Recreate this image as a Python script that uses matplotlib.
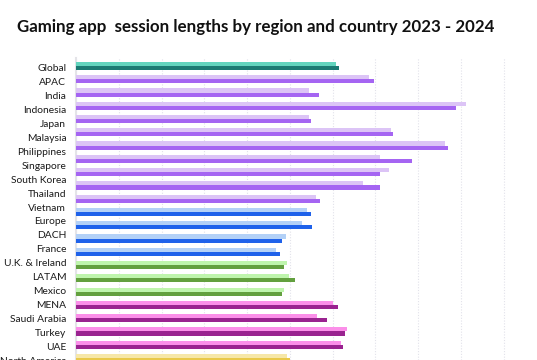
import numpy as np
import matplotlib
matplotlib.use("Agg")
import matplotlib.pyplot as plt

# y-axis labels as shown (22 labels spread over 23 bar rows)
labels = ["Global", "APAC", "India", "Indonesia", "Japan", "Malaysia",
          "Philippines", "Singapore", "South Korea", "Thailand", "Vietnam",
          "Europe", "DACH", "France", "U.K. & Ireland", "LATAM", "Mexico",
          "MENA", "Saudi Arabia", "Turkey", "UAE", "North America"]

# session lengths (minutes, estimated) per bar row
sessions_2023 = [30.4, 34.3, 27.3, 45.6, 27.2, 36.8, 43.2, 35.6, 36.6, 33.5, 28.1,
                 27.0, 26.4, 24.5, 23.4, 24.7, 24.9, 24.3,
                 30.0, 28.2, 31.7, 31.0, 24.7]
sessions_2024 = [30.7, 34.9, 28.4, 44.4, 27.5, 37.1, 43.5, 39.3, 35.5, 35.5, 28.5,
                 27.5, 27.6, 24.1, 23.9, 24.3, 25.6, 24.1,
                 30.6, 29.4, 31.5, 31.2, 25.0]
groups = ["global"] + ["apac"] * 10 + ["europe"] * 4 + ["latam"] * 3 + ["mena"] * 4 + ["na"]

colors_2023 = {"global": "#62d4bd", "apac": "#dcc4f6", "europe": "#b3d1f7",
               "latam": "#bff5ad", "mena": "#fb8fe9", "na": "#f6e7a8"}
colors_2024 = {"global": "#1b7a72", "apac": "#a565f2", "europe": "#1f62ea",
               "latam": "#63a03f", "mena": "#9a2390", "na": "#e9c94a"}

fig = plt.figure(figsize=(5.37, 3.6), dpi=100)
ax = fig.add_axes([76 / 537, 0, 1 - 76 / 537, 1 - 58 / 360])

y = np.arange(len(sessions_2023))
h = 0.31
ax.barh(y - h / 2, sessions_2023, height=h,
        color=[colors_2023[g] for g in groups], zorder=3)
ax.barh(y + h / 2, sessions_2024, height=h,
        color=[colors_2024[g] for g in groups], zorder=3)

ax.set_xlim(0, 53.9)
ax.set_ylim(22.1, -0.6)
ax.set_xticks(np.arange(0, 54, 5))
ax.set_xticklabels([])
ax.tick_params(axis="x", length=0)

label_pos = np.linspace(0, len(sessions_2023) - 1, len(labels)) + 0.15
ax.set_yticks(label_pos)
ax.set_yticklabels(labels, fontsize=7.4, color="#1a1a1a", family="Lato")
ax.tick_params(axis="y", length=0, pad=7)

ax.grid(axis="x", color="#e2e2ea", linestyle=(0, (1, 1.5)), linewidth=0.8, zorder=0)
for s in ["top", "right", "bottom"]:
    ax.spines[s].set_visible(False)
ax.spines["left"].set_color("#e4e4e8")
ax.spines["left"].set_linewidth(1.5)

fig.text(17 / 537, 1 - 27 / 360, "Gaming app  session lengths by region and country 2023 - 2024",
         fontsize=12.2, fontweight="bold", family="Lato", color="#111111", va="center")

fig.savefig("out.png", dpi=100)
